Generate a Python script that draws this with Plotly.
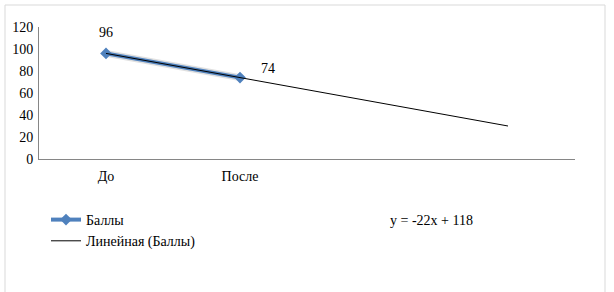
import numpy as np
import plotly.graph_objects as go

categories = ["До", "После"]
scores = [96, 74]
series_name = "Баллы"
trend_name = "Линейная (Баллы)"
forecast_periods = 2
y_ticks = [0, 20, 40, 60, 80, 100, 120]

x_idx = np.arange(1, len(categories) + 1)
slope, intercept = np.polyfit(x_idx, scores, 1)
x_trend = np.arange(1, len(categories) + forecast_periods + 1)
y_trend = slope * x_trend + intercept
eq_text = f"y = {slope:.0f}x + {intercept:.0f}"

FONT = "Liberation Serif"
W, H = 614, 292
L, R, T, B = 39, 39, 27, 133
pw, ph = W - L - R, H - T - B

def px(xpix):
    return (xpix - L) / pw

def py(ypix):
    return (H - B - ypix) / ph

fig = go.Figure()
fig.add_trace(go.Scatter(
    x=x_idx, y=scores, mode="lines", showlegend=False, hoverinfo="skip",
    line=dict(color="rgba(0,0,0,0.12)", width=7),
))
fig.add_trace(go.Scatter(
    x=x_idx, y=scores, mode="lines+markers", name=series_name,
    line=dict(color="#4F81BD", width=4),
    marker=dict(symbol="diamond", size=9, color="#4F81BD"),
    legendgroup="a",
))
fig.add_trace(go.Scatter(
    x=x_trend, y=y_trend, mode="lines", name=trend_name,
    line=dict(color="black", width=1),
    legendgroup="b",
))

label_shifts = [(0, 21), (28, 9)]
annotations = []
for xi, v, (dx, dy) in zip(x_idx, scores, label_shifts):
    annotations.append(dict(
        x=xi, y=v, xref="x", yref="y", text=str(v), showarrow=False,
        xshift=dx, yshift=dy, xanchor="center", yanchor="middle",
        font=dict(family=FONT, size=14, color="black"),
    ))
annotations.append(dict(
    x=px(388), y=py(220), xref="paper", yref="paper",
    xanchor="left", yanchor="middle", showarrow=False,
    text=eq_text,
    font=dict(family=FONT, size=14, color="black"),
))

fig.update_layout(
    width=W, height=H,
    margin=dict(l=L, r=R, t=T, b=B),
    paper_bgcolor="white", plot_bgcolor="white",
    font=dict(family=FONT, size=14, color="black"),
    xaxis=dict(
        range=[0.5, len(x_trend) + 0.5],
        tickvals=list(x_idx), ticktext=categories,
        showgrid=False, zeroline=False,
        showline=True, linecolor="#868686", linewidth=1,
        ticks="", ticklabelstandoff=4,
    ),
    yaxis=dict(
        range=[0, 120], tickvals=y_ticks,
        showgrid=False, zeroline=False,
        showline=True, linecolor="#868686", linewidth=1,
        ticks="", ticklabelstandoff=2,
    ),
    legend=dict(
        x=px(46), y=py(204), xanchor="left", yanchor="top",
        font=dict(family=FONT, size=14, color="black"),
        traceorder="grouped", tracegroupgap=0,
        bgcolor="rgba(0,0,0,0)",
    ),
    showlegend=True,
    annotations=annotations,
    shapes=[dict(
        type="rect", xref="paper", yref="paper",
        x0=px(5), x1=px(605), y0=py(300), y1=py(5),
        line=dict(color="#D9D9D9", width=1), layer="below",
    )],
)

fig.write_html("out.html")
